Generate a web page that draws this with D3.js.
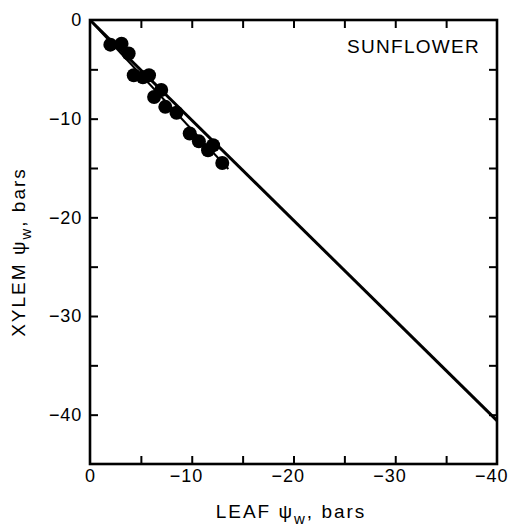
<!DOCTYPE html>
<html>
<head>
<meta charset="utf-8">
<script src="https://cdn.jsdelivr.net/npm/d3@7"></script>
<style>
  html, body { margin: 0; padding: 0; background: #fff; }
  svg { display: block; }
  text { font-family: "Liberation Sans", Arial, Helvetica, sans-serif; fill: #000; }
</style>
</head>
<body>
<svg id="chart" width="509" height="527"></svg>
<script>
// ---- data ----
const leafPsi   = [-2.0, -3.1, -3.8, -4.3, -5.2, -5.8, -6.3, -7.0, -7.4, -8.5, -9.8, -10.7, -11.6, -12.1, -13.0];
const xylemPsi  = [-2.5, -2.4, -3.4, -5.6, -5.8, -5.6, -7.8, -7.1, -8.8, -9.4, -11.5, -12.3, -13.2, -12.7, -14.5];
const oneToOneLeaf  = [0, -40];
const oneToOneXylem = [0, -40.6];
const fitLeaf  = [0, -13.6];
const fitXylem = [0, -15.1];
const xTickLabels = [0, -10, -20, -30, -40];
const yTickLabels = [0, -10, -20, -30, -40];
const minorTicksX = [-5, -10, -15, -20, -25, -30, -35];
const minorTicksY = [-5, -10, -15, -20, -25, -30, -35, -40];
const xDomain = [0, -40];
const yDomain = [0, -45];
const panelLabel = "SUNFLOWER";

// ---- layout ----
const svg = d3.select("#chart");
const x = d3.scaleLinear().domain(xDomain).range([90, 497]);
const y = d3.scaleLinear().domain(yDomain).range([20, 464]);
const fmtMinus = d => (d < 0 ? "\u2212" : "") + Math.abs(d);

// frame
svg.append("rect")
  .attr("x", x(0)).attr("y", y(0))
  .attr("width", x(-40) - x(0)).attr("height", y(-45) - y(0))
  .attr("fill", "none").attr("stroke", "#000").attr("stroke-width", 2.6);

// inward ticks on all four sides
function tickStyle(g) {
  g.select(".domain").remove();
  g.selectAll(".tick line").attr("stroke", "#000").attr("stroke-width", 2);
  g.selectAll(".tick text").remove();
}
svg.append("g").attr("transform", `translate(0,${y(-45)})`)
  .call(d3.axisBottom(x).tickValues(minorTicksX).tickSizeInner(-8).tickSizeOuter(0)).call(tickStyle);
svg.append("g").attr("transform", `translate(0,${y(0)})`)
  .call(d3.axisTop(x).tickValues(minorTicksX).tickSizeInner(-8).tickSizeOuter(0)).call(tickStyle);
svg.append("g").attr("transform", `translate(${x(0)},0)`)
  .call(d3.axisLeft(y).tickValues(minorTicksY).tickSizeInner(-8).tickSizeOuter(0)).call(tickStyle);
svg.append("g").attr("transform", `translate(${x(-40)},0)`)
  .call(d3.axisRight(y).tickValues(minorTicksY).tickSizeInner(-8).tickSizeOuter(0)).call(tickStyle);

// x tick labels: digits centred on the tick, minus hanging to the left
const xl = svg.append("g").attr("transform", `translate(0,${y(-45)})`)
  .call(d3.axisBottom(x).tickValues(xTickLabels).tickSize(0).tickPadding(18).tickFormat(d => Math.abs(d)));
xl.select(".domain").remove();
xl.selectAll(".tick text")
  .attr("font-size", 18).attr("letter-spacing", 1).attr("font-family", null)
  .attr("text-anchor", "middle").attr("dy", 0).attr("y", 18);
xl.selectAll(".tick").each(function(d) {
  if (d >= 0) return;
  const t = d3.select(this).select("text");
  const w = t.node().getComputedTextLength();
  d3.select(this).append("text")
    .attr("x", -w / 2 - 1).attr("y", 18)
    .attr("text-anchor", "end").attr("font-size", 18)
    .text("\u2212");
});

// y tick labels
const yl = svg.append("g").attr("transform", `translate(${x(0)},0)`)
  .call(d3.axisLeft(y).tickValues(yTickLabels).tickSize(0).tickPadding(8).tickFormat(fmtMinus));
yl.select(".domain").remove();
yl.selectAll(".tick text").attr("font-size", 18).attr("letter-spacing", 0.8).attr("font-family", null);

// 1:1 line
const line = d3.line().x(d => x(d[0])).y(d => y(d[1]));
svg.append("path")
  .datum(oneToOneLeaf.map((v, i) => [v, oneToOneXylem[i]]))
  .attr("d", line).attr("fill", "none").attr("stroke", "#000").attr("stroke-width", 3);

// fitted line through the points
svg.append("path")
  .datum(fitLeaf.map((v, i) => [v, fitXylem[i]]))
  .attr("d", line).attr("fill", "none").attr("stroke", "#000").attr("stroke-width", 2);

// points
svg.append("g").selectAll("circle")
  .data(leafPsi.map((v, i) => [v, xylemPsi[i]]))
  .join("circle")
  .attr("cx", d => x(d[0])).attr("cy", d => y(d[1]))
  .attr("r", 7).attr("fill", "#000");

// panel label
svg.append("text").attr("x", 347).attr("y", 53)
  .attr("font-size", 19).attr("letter-spacing", 1.3).text(panelLabel);

// x axis title
const xt = svg.append("text").attr("x", 291).attr("y", 518)
  .attr("text-anchor", "middle").attr("font-size", 19).attr("letter-spacing", 2);
xt.append("tspan").text("LEAF \u03C8");
xt.append("tspan").attr("font-size", 15).attr("dy", 6).text("w");
xt.append("tspan").attr("dy", -6).text(", bars");

// y axis title
const yt = svg.append("text")
  .attr("transform", "translate(25,252) rotate(-90)")
  .attr("text-anchor", "middle").attr("font-size", 19).attr("letter-spacing", 2);
yt.append("tspan").text("XYLEM \u03C8");
yt.append("tspan").attr("font-size", 15).attr("dy", 6).text("w");
yt.append("tspan").attr("dy", -6).text(", bars");
</script>
</body>
</html>
